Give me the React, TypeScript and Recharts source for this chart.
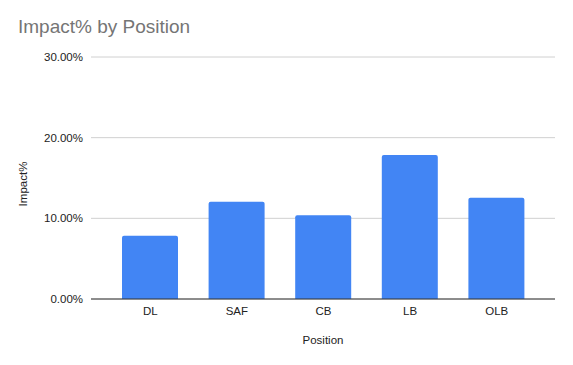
import React from 'react';
import { BarChart, Bar, XAxis, YAxis, CartesianGrid, Label } from 'recharts';

const positions = ['DL', 'SAF', 'CB', 'LB', 'OLB'];
const impactValues = [0.0784, 0.1205, 0.1037, 0.1784, 0.1254];
const yTicks = [0, 0.1, 0.2, 0.3];

const data = positions.map((p, i) => ({ position: p, impact: impactValues[i] }));

const fmt = (v: number) => (v * 100).toFixed(2) + '%';

export default function App() {
  return (
    <div style={{ position: 'absolute', left: 0, top: 0, width: 573, height: 365, background: '#fff', fontFamily: '"Liberation Sans", Arial, sans-serif' }}>
      <div style={{ position: 'absolute', left: 18, top: 16, fontSize: 19, color: '#757575', lineHeight: '22px', whiteSpace: 'nowrap' }}>
        Impact% by Position
      </div>
      <BarChart
        width={573}
        height={365}
        data={data}
        margin={{ top: 57, right: 18, bottom: 0, left: 0 }}
        barSize={56}
      >
        <CartesianGrid vertical={false} stroke="#d0d0d0" />
        <XAxis
          dataKey="position"
          height={66}
          padding={{ left: 16, right: 15 }}
          tickLine={false}
          axisLine={{ stroke: '#333' }}
          tick={{ fill: '#222', fontSize: 11.5 }}
          tickMargin={2}
        >
          <Label
            content={({ viewBox }: any) => (
              <text x={viewBox.x + viewBox.width / 2} y={344} textAnchor="middle" fill="#222" fontSize={11.5}>
                Position
              </text>
            )}
          />
        </XAxis>
        <YAxis
          width={91}
          domain={[0, 0.3]}
          ticks={yTicks}
          tickFormatter={fmt}
          tickLine={false}
          axisLine={false}
          tick={{ fill: '#222', fontSize: 11.5 }}
          tickMargin={2}
        >
          <Label
            content={() => (
              <text x={27} y={184} textAnchor="middle" fill="#222" fontSize={11.5} transform="rotate(-90 27 184)">
                Impact%
              </text>
            )}
          />
        </YAxis>
        <Bar dataKey="impact" fill="#4285F4" radius={[2, 2, 0, 0]} isAnimationActive={false} />
      </BarChart>
    </div>
  );
}
